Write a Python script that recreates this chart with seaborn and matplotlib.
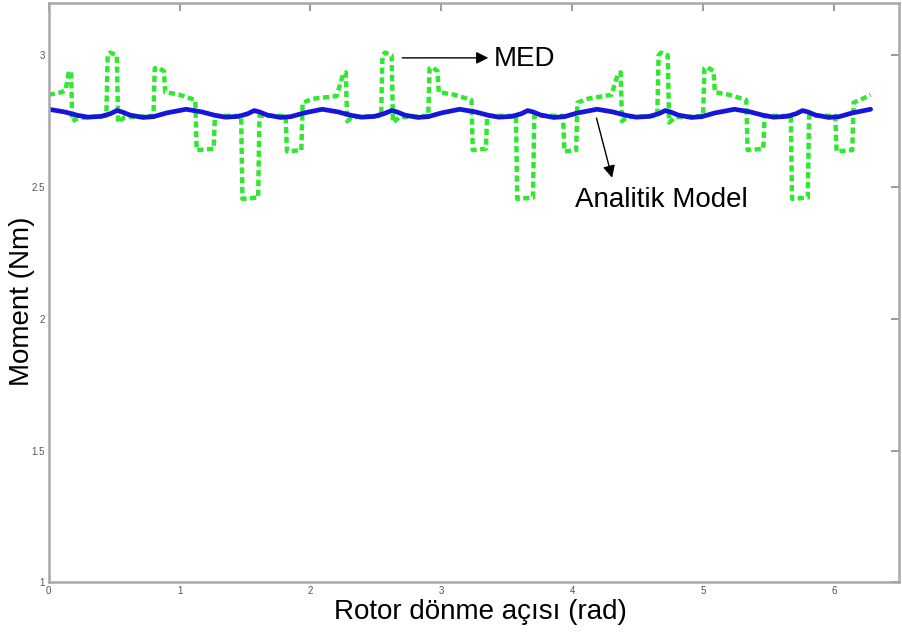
import numpy as np
import pandas as pd
import seaborn as sns
import matplotlib
matplotlib.use('Agg')
import matplotlib.pyplot as plt

# MED sonucu (yesil, kesikli)
med_x = [0.00, 0.10, 0.13, 0.15, 0.17, 0.18, 0.22, 0.30, 0.44, 0.45, 0.47, 0.52, 0.53, 0.58,
         0.80, 0.81, 0.83, 0.88, 0.89, 1.00, 1.12, 1.13, 1.26, 1.27, 1.47, 1.48, 1.60, 1.61,
         1.81, 1.82, 1.93, 1.94, 2.02, 2.20, 2.25, 2.27, 2.28, 2.32, 2.54, 2.55, 2.57, 2.62,
         2.63, 2.68, 2.90, 2.91, 2.93, 2.97, 2.98, 3.10, 3.23, 3.24, 3.34, 3.35, 3.57, 3.58,
         3.70, 3.71, 3.93, 3.94, 4.03, 4.04, 4.12, 4.30, 4.35, 4.37, 4.38, 4.42, 4.65, 4.66,
         4.68, 4.73, 4.74, 4.79, 5.00, 5.01, 5.03, 5.08, 5.09, 5.20, 5.33, 5.34, 5.46, 5.47,
         5.67, 5.68, 5.80, 5.81, 6.01, 6.02, 6.14, 6.15, 6.22, 6.28]
med_y = [2.85, 2.86, 2.87, 2.93, 2.94, 2.75, 2.76, 2.765, 2.77, 3.00, 3.01, 3.00, 2.745, 2.765,
         2.77, 2.95, 2.955, 2.94, 2.86, 2.85, 2.83, 2.64, 2.645, 2.77, 2.77, 2.455, 2.46, 2.77,
         2.77, 2.635, 2.64, 2.82, 2.835, 2.845, 2.93, 2.935, 2.75, 2.765, 2.77, 3.00, 3.01, 3.00,
         2.745, 2.765, 2.77, 2.95, 2.955, 2.94, 2.86, 2.85, 2.83, 2.64, 2.645, 2.77, 2.77, 2.455,
         2.46, 2.77, 2.77, 2.635, 2.64, 2.82, 2.835, 2.85, 2.93, 2.935, 2.75, 2.765, 2.77, 3.00,
         3.01, 3.00, 2.745, 2.765, 2.77, 2.95, 2.955, 2.94, 2.86, 2.85, 2.83, 2.64, 2.645, 2.77,
         2.77, 2.455, 2.46, 2.77, 2.77, 2.635, 2.64, 2.82, 2.835, 2.85]

# Analitik model (mavi)
model_x = [0.00, 0.12, 0.22, 0.30, 0.40, 0.47, 0.52, 0.56, 0.62, 0.72, 0.80, 0.90,
           1.05, 1.17, 1.27, 1.35, 1.45, 1.52, 1.57, 1.61, 1.67, 1.77, 1.85, 1.95,
           2.09, 2.21, 2.31, 2.39, 2.49, 2.56, 2.62, 2.66, 2.72, 2.82, 2.90, 3.00,
           3.14, 3.26, 3.36, 3.44, 3.54, 3.61, 3.66, 3.70, 3.76, 3.86, 3.94, 4.04,
           4.19, 4.31, 4.41, 4.49, 4.59, 4.66, 4.71, 4.75, 4.81, 4.91, 4.99, 5.09,
           5.24, 5.36, 5.46, 5.54, 5.64, 5.71, 5.76, 5.80, 5.86, 5.96, 6.04, 6.14, 6.28]
model_y = [2.795, 2.785, 2.772, 2.765, 2.768, 2.778, 2.79, 2.785, 2.773, 2.764, 2.767, 2.781,
           2.795, 2.785, 2.772, 2.765, 2.768, 2.778, 2.79, 2.785, 2.773, 2.764, 2.767, 2.781,
           2.795, 2.785, 2.772, 2.765, 2.768, 2.778, 2.79, 2.785, 2.773, 2.764, 2.767, 2.781,
           2.795, 2.785, 2.772, 2.765, 2.768, 2.778, 2.79, 2.785, 2.773, 2.764, 2.767, 2.781,
           2.795, 2.785, 2.772, 2.765, 2.768, 2.778, 2.79, 2.785, 2.773, 2.764, 2.767, 2.781,
           2.795, 2.785, 2.772, 2.765, 2.768, 2.778, 2.79, 2.785, 2.773, 2.764, 2.767, 2.781, 2.795]

x_ticks = [0, 1, 2, 3, 4, 5, 6]
y_ticks = [1, 1.5, 2, 2.5, 3]

sns.set_style('white')
plt.rcParams['font.family'] = ['Liberation Sans', 'DejaVu Sans']
plt.rcParams['text.color'] = 'black'
plt.rcParams['axes.labelcolor'] = 'black'

df_med = pd.DataFrame({'x': med_x, 'y': med_y})
df_model = pd.DataFrame({'x': model_x, 'y': model_y})

fig = plt.figure(figsize=(9.03, 6.35), dpi=100)
ax = fig.add_axes([0.054, 0.083, 0.942, 0.913])

sns.lineplot(data=df_med, x='x', y='y', ax=ax, color='#2fe82f', lw=3.2,
             estimator=None, sort=False)
ax.lines[-1].set_dashes((1.4, 0.8))
sns.lineplot(data=df_model, x='x', y='y', ax=ax, color='#1515dc', lw=3.4,
             estimator=None, sort=False)

ax.set_xlim(0, 6.5)
ax.set_ylim(1, 3.2)
ax.set_xticks(x_ticks)
ax.set_yticks(y_ticks)
ax.set_xticklabels([str(t) for t in x_ticks])
ax.set_yticklabels(['1', '1.5', '2', '2.5', '3'])
ax.tick_params(direction='in', length=6, width=1.2, color='#8a8a8a',
               labelsize=7, labelcolor='#555555', top=True, right=True, pad=3)
for s in ax.spines.values():
    s.set_color('#a8a8a8')
    s.set_linewidth(1.8)

ax.set_xlabel('Rotor dönme açısı (rad)', fontsize=20, labelpad=2)
ax.xaxis.label.set_x(0.508)
ax.set_ylabel('Moment (Nm)', fontsize=20, labelpad=-3)
ax.yaxis.label.set_y(0.484)

ax.annotate('', xy=(3.38, 2.99), xytext=(2.68, 2.99),
            arrowprops=dict(arrowstyle='-|>', color='black', lw=1.0, mutation_scale=18))
ax.text(3.40, 2.985, 'MED', fontsize=20, va='center', ha='left')
ax.annotate('', xy=(4.31, 2.525), xytext=(4.18, 2.772),
            arrowprops=dict(arrowstyle='-|>', color='black', lw=1.0, mutation_scale=18))
ax.text(4.02, 2.45, 'Analitik Model', fontsize=20, va='center', ha='left')

fig.savefig('out.png', dpi=100)
